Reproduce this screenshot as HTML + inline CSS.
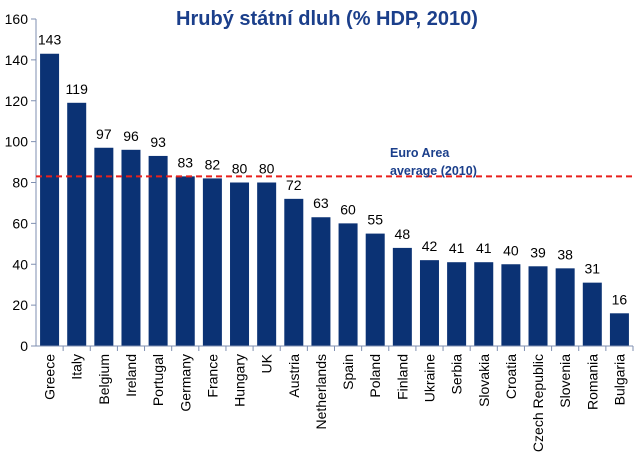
<!DOCTYPE html>
<html><head><meta charset="utf-8"><style>
html,body{margin:0;padding:0;background:#fff;}
svg{display:block;font-family:"Liberation Sans",sans-serif;}
</style></head><body>
<svg id="chart" width="640" height="462">
<text x="327" y="25" text-anchor="middle" font-size="20" font-weight="bold" fill="#1b3f8b">Hrubý státní dluh (% HDP, 2010)</text>
<g id="g"></g>
</svg>
<script>
const cats=["Greece","Italy","Belgium","Ireland","Portugal","Germany","France","Hungary","UK","Austria","Netherlands","Spain","Poland","Finland","Ukraine","Serbia","Slovakia","Croatia","Czech Republic","Slovenia","Romania","Bulgaria"];
const values=[143,119,97,96,93,83,82,80,80,72,63,60,55,48,42,41,41,40,39,38,31,16];
const yTicks=[0,20,40,60,80,100,120,140,160];
const euroAverage=[83];
const NS="http://www.w3.org/2000/svg";
const g=document.getElementById('g');
const x0=36,x1=633,y0=346,yTop=19;
const bw=(x1-x0)/cats.length;
const y=v=>y0-(v/160)*(y0-yTop);
function mk(t,a){const e=document.createElementNS(NS,t);for(const k in a)e.setAttribute(k,a[k]);g.appendChild(e);return e;}
yTicks.forEach(v=>{
 const t=mk('line',{x1:x0-5,x2:x0,y1:y(v),y2:y(v),stroke:'#7f8fb0'});
 
 
 const l=mk('text',{x:x0-8,y:y(v)+5,'text-anchor':'end','font-size':'14',fill:'#000'});
 l.textContent=v;
 
 
});
cats.forEach((c,i)=>{
 const cx=x0+bw*(i+0.5),v=values[i];
 const b=mk('rect',{x:cx-9.5,y:y(v),width:19,height:y0-y(v),fill:'#0b3274'});
 
 
 const vl=mk('text',{x:cx,y:y(v)-9,'text-anchor':'middle','font-size':'14',fill:'#000'});
 vl.textContent=v;
 
 
 const tk=mk('line',{x1:x0+bw*(i+1),x2:x0+bw*(i+1),y1:y0,y2:y0+5,stroke:'#7f8fb0'});
 
 
 const cl=mk('text',{x:0,y:0,'text-anchor':'end','font-size':'14',fill:'#000',transform:`translate(${cx+5},354) rotate(-90)`});
 cl.textContent=c;
 
 
});
const ya=mk('line',{x1:x0,x2:x0,y1:yTop,y2:y0,stroke:'#7f8fb0'});


const xa=mk('line',{x1:x0,x2:x1,y1:y0,y2:y0,stroke:'#7f8fb0'});


const ea=mk('line',{x1:x0,x2:x1,y1:y(euroAverage[0]),y2:y(euroAverage[0]),stroke:'#e8201c','stroke-width':2,'stroke-dasharray':'6,4'});


const t1=mk('text',{x:390,y:157,'font-size':'12.5','font-weight':'bold',fill:'#1b3f8b'});
t1.textContent='Euro Area';


const t2=mk('text',{x:390,y:175,'font-size':'12.5','font-weight':'bold',fill:'#1b3f8b'});
t2.textContent='average (2010)';


</script>
</body></html>
